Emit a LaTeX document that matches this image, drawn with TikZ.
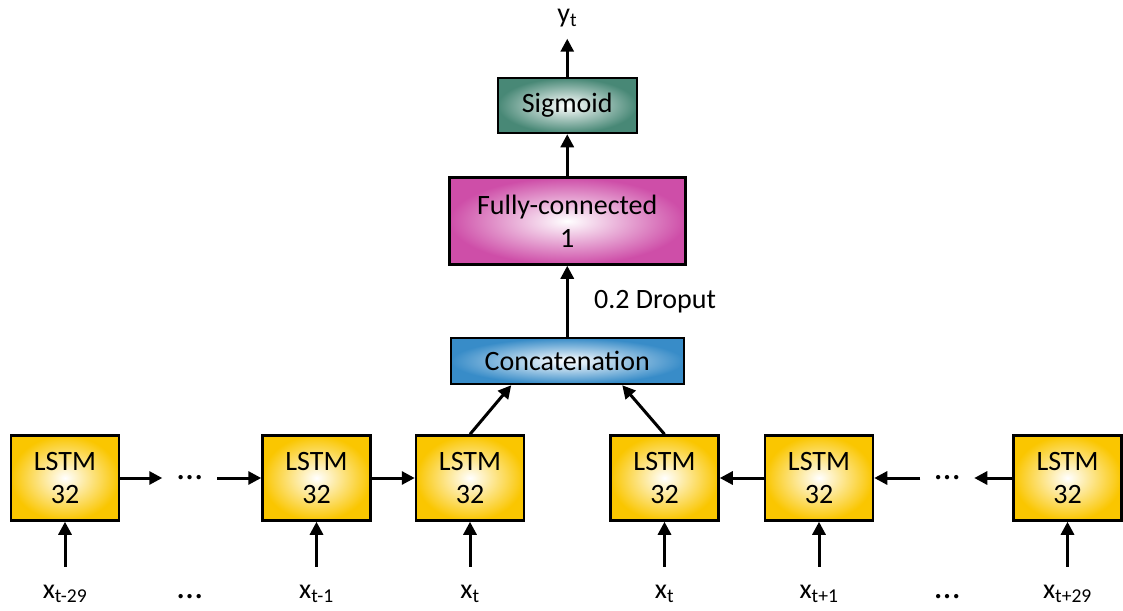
\documentclass[tikz,border=0pt]{standalone}
\usepackage{fontspec}
\setmainfont{Carlito}
\usetikzlibrary{arrows.meta}
\usetikzlibrary{positioning}
\usetikzlibrary{calc}
\definecolor{lstmgold}{RGB}{250,198,0}
\definecolor{sigteal}{RGB}{72,136,118}
\definecolor{fcpink}{RGB}{206,78,168}
\definecolor{catblue}{RGB}{56,140,200}
\tikzset{->, > = {Triangle[length=13pt, width=13pt]}, node distance = 44pt,
  every node/.style = {font=\fontsize{28pt}{33pt}\selectfont},
  block/.style = {draw, line width=2.5pt, inner color=white, align=center},
  lstm/.style = {block, outer color=lstmgold, minimum width=108pt, minimum height=85pt},
  dots/.style = {inner sep=0pt, outer sep=0pt, minimum width=55pt, font=\fontsize{36pt}{36pt}\selectfont},
  io/.style = {inner sep=0pt, text height=30pt, text depth=15pt}}

\begin{document}
\begin{tikzpicture}[line width=3pt]
    \useasboundingbox (0pt,0pt) rectangle (1123pt,-610pt);
    % forward chain
    \node [lstm] (l1) at (65pt,-478pt) {LSTM\\32};
    \node [dots, right = 42pt of l1] (d1) {\dots};
    \node [lstm, right = of d1] (l2) {LSTM\\32};
    \node [lstm, right = 43pt of l2] (l3) {LSTM\\32};
    % backward chain
    \node [lstm, right = 84pt of l3] (l4) {LSTM\\32};
    \node [lstm, right = of l4] (l5) {LSTM\\32};
    \node [dots, right = 46pt of l5, minimum width=54pt] (d2) {\dots};
    \node [lstm, right = 38pt of d2] (l6) {LSTM\\32};
    % inputs
    \node [io, below = 45pt of l1] (x1) {x\textsubscript{t-29}};
    \node [io, below = 45pt of l2] (x2) {x\textsubscript{t-1}};
    \node [io, below = 45pt of l3] (x3) {x\textsubscript{t}};
    \node [io, below = 45pt of l4] (x4) {x\textsubscript{t}};
    \node [io, below = 45pt of l5] (x5) {x\textsubscript{t+1}};
    \node [io, below = 45pt of l6] (x6) {x\textsubscript{t+29}};
    \node [io, font=\fontsize{36pt}{36pt}\selectfont] (xd1) at (d1 |- x1) {\dots};
    \node [io, font=\fontsize{36pt}{36pt}\selectfont] (xd2) at (d2 |- x1) {\dots};
    % upper layers
    \coordinate (mid) at ($(l3.north)!0.5!(l4.north)$);
    \node [block, outer color=catblue, minimum width=233pt, minimum height=46pt, above = 49pt of mid] (cat) {Concatenation};
    \node [block, outer color=fcpink, minimum width=236pt, minimum height=87pt, above = 71pt of cat] (fc) {Fully-connected\\1};
    \node [block, outer color=sigteal, minimum width=139pt, minimum height=55pt, above = 42pt of fc] (sig) {Sigmoid};
    \node [io, above = 38pt of sig] (yout) {y\textsubscript{t}};
    % paths
    \foreach \i in {1,...,6}
      \draw (x\i) -- (l\i);
    \draw (l1) -- (d1);
    \draw (d1) -- (l2);
    \draw (l2) -- (l3);
    \draw (l6) -- (d2);
    \draw (d2) -- (l5);
    \draw (l5) -- (l4);
    \draw (l3.north) -- ([xshift=-56pt]cat.south);
    \draw (l4.north) -- ([xshift=55pt]cat.south);
    \draw (cat) -- node [right = 22pt] {0.2 Droput} (fc);
    \draw (fc) -- (sig);
    \draw (sig) -- (yout);
\end{tikzpicture}
\end{document}
